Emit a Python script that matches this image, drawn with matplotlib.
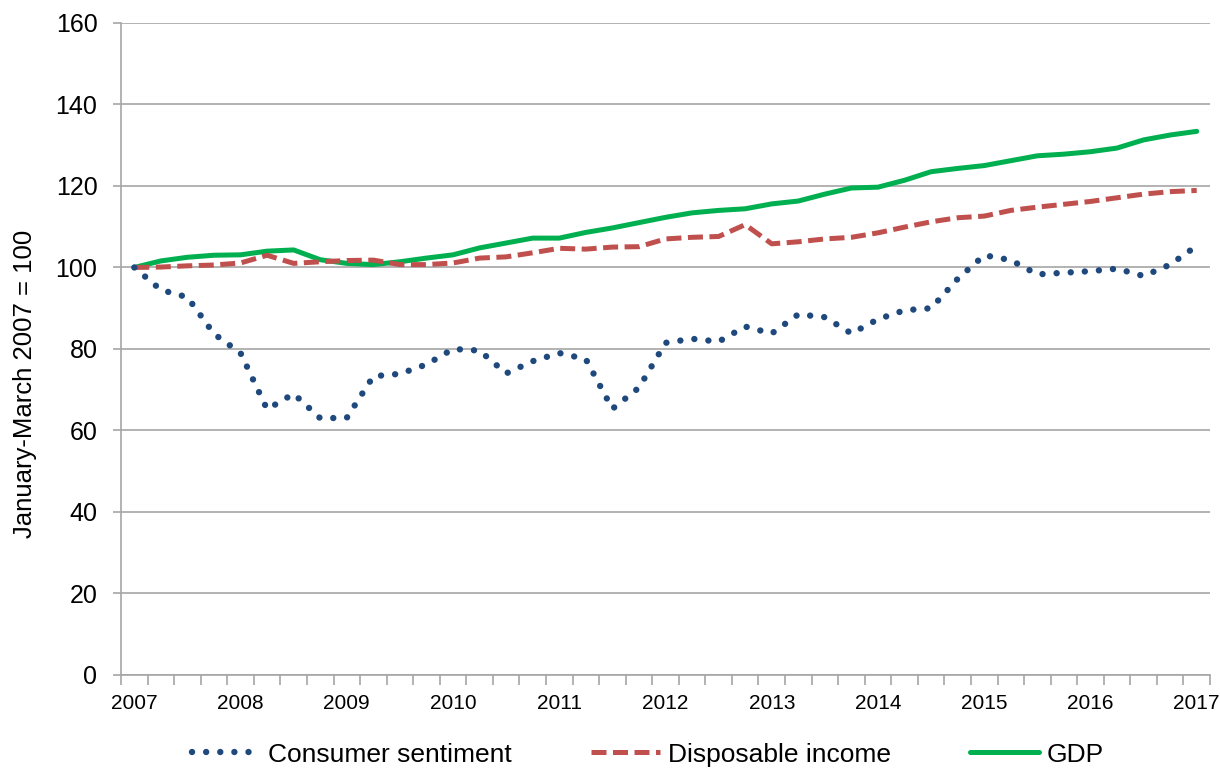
import numpy as np
import matplotlib
matplotlib.use("Agg")
import matplotlib.pyplot as plt
from matplotlib.ticker import FixedLocator, NullFormatter

plt.rcParams['font.family'] = ['Liberation Sans', 'DejaVu Sans']

# Quarterly index values, Q1 2007 .. Q1 2017 (Jan-Mar 2007 = 100)
year_labels = ['2007', '2008', '2009', '2010', '2011', '2012',
               '2013', '2014', '2015', '2016', '2017']

consumer_sentiment = [100.0, 94.5, 92.7, 83.7, 79.0, 65.2, 69.0, 63.0, 63.1, 73.3,
                      73.9, 76.2, 80.0, 79.6, 74.0, 77.0, 79.0, 77.5, 65.3, 70.5,
                      81.5, 82.5, 81.8, 85.5, 83.8, 88.5, 87.8, 83.8, 87.3, 89.5,
                      90.0, 97.2, 103.0, 101.8, 98.3, 98.7, 99.1, 99.7, 97.9, 100.7,
                      105.3]

disposable_income = [100.0, 100.1, 100.4, 100.6, 101.1, 103.0, 101.0, 101.4, 101.7, 101.8,
                     100.7, 100.7, 101.1, 102.3, 102.6, 103.6, 104.7, 104.5, 105.0, 105.1,
                     107.0, 107.4, 107.6, 110.5, 105.8, 106.3, 107.0, 107.4, 108.5, 109.9,
                     111.2, 112.2, 112.6, 114.0, 114.8, 115.5, 116.2, 117.1, 118.0, 118.6,
                     118.9]

gdp = [100.0, 101.6, 102.5, 103.0, 103.1, 104.0, 104.3, 101.9, 101.0, 100.7,
       101.4, 102.3, 103.1, 104.8, 106.0, 107.2, 107.2, 108.6, 109.7, 111.0,
       112.3, 113.4, 114.0, 114.4, 115.6, 116.3, 118.0, 119.5, 119.7, 121.4,
       123.5, 124.3, 125.0, 126.2, 127.4, 127.8, 128.4, 129.3, 131.3, 132.5,
       133.4]

blue = '#1F497D'
red = '#C0504D'
green = '#00B050'
grid_col = '#A6A6A6'

quarters = np.arange(len(gdp))

fig = plt.figure(figsize=(12.2, 7.7), dpi=100)
ax = fig.add_axes([0.0992, 0.1234, 0.8926, 0.8468])

ax.plot(quarters, gdp, color=green, lw=3.6, solid_capstyle='round',
        solid_joinstyle='round', zorder=3, label='GDP')
ax.plot(quarters, disposable_income, color=red, lw=3.6, linestyle=(0, (3.0, 1.3)),
        zorder=4, label='Disposable income')
ax.plot(quarters, consumer_sentiment, color=blue, lw=4.6, linestyle=(0, (0.01, 2.2)),
        dash_capstyle='round', zorder=5, label='Consumer sentiment')

ax.set_ylim(0, 160)
ax.set_yticks(np.arange(0, 161, 20))
ax.set_xlim(-0.5, len(gdp) - 0.5)

# tick marks at category boundaries, year labels under Q1 of each year
ax.xaxis.set_major_locator(FixedLocator(np.arange(-0.5, len(gdp), 1.0)))
ax.xaxis.set_major_formatter(NullFormatter())
ax.set_xticks(quarters[::4], minor=True)
ax.set_xticklabels(year_labels, minor=True)
ax.tick_params(axis='x', which='major', length=7, width=1.2, color=grid_col, direction='out')
ax.tick_params(axis='x', which='minor', length=0, pad=14, labelsize=15)
ax.tick_params(axis='y', length=6, width=1.2, color=grid_col, pad=11, labelsize=18)

ax.grid(axis='y', color=grid_col, lw=1.2, zorder=0)
ax.set_axisbelow(True)
for side in ['top', 'right']:
    ax.spines[side].set_visible(False)
for side in ['left', 'bottom']:
    ax.spines[side].set_color(grid_col)
    ax.spines[side].set_linewidth(1.2)

ax.set_ylabel('January-March 2007 = 100', fontsize=18.5)
ax.yaxis.set_label_coords(-0.077, 0.446)

handles, labels = ax.get_legend_handles_labels()
order = [2, 1, 0]
fig.legend([handles[i] for i in order], [labels[i] for i in order],
           loc='center', bbox_to_anchor=(0.531, 0.02), ncol=3, frameon=False,
           fontsize=19, handlelength=2.6, handletextpad=0.3, columnspacing=3.0)

fig.savefig('out.png', dpi=100)
